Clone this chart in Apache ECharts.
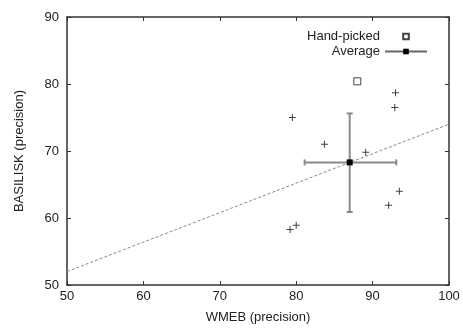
<!DOCTYPE html>
<html>
<head>
<meta charset="utf-8">
<script src="https://cdn.jsdelivr.net/npm/echarts@6/dist/echarts.min.js"></script>
<style>
  html, body { margin: 0; padding: 0; background: #fff; }
  #chart { width: 463px; height: 329px; }
</style>
</head>
<body>
<div id="chart"></div>
<script>
// data
const plusX = [79.5, 83.7, 89.1, 93.0, 92.9, 93.5, 92.1, 80.0, 79.2];
const plusY = [75.0, 71.0, 69.8, 78.7, 76.5, 64.0, 61.9, 58.9, 58.3];
const handPicked = [88.0, 80.4];
const average = [87.0, 68.3];
const avgXRange = [81.1, 93.1];
const avgYRange = [60.9, 75.6];
const fitX = [50, 100];
const fitY = [52.0, 74.0];
const xTicks = [50, 100, 10];
const yTicks = [50, 90, 10];

const font = 'Liberation Sans, Arial, sans-serif';
const txt = '#222';
const axisCol = '#333';

const chart = echarts.init(document.getElementById('chart'));

const frameAxis = (pos, show) => ({
  type: 'value',
  position: pos,
  axisLine: { show: true, onZero: false, lineStyle: { color: axisCol, width: 1.5 } },
  axisTick: { show: true, inside: true, length: 4, lineStyle: { color: axisCol, width: 1 } },
  axisLabel: { show: show },
  splitLine: { show: false }
});

chart.setOption({
  animation: false,
  textStyle: { fontFamily: font },
  grid: { left: 67, top: 17, right: 14, bottom: 42 },
  legend: {
    data: ['Hand-picked', 'Average'],
    orient: 'vertical',
    align: 'right',
    right: 30,
    top: 25,
    itemWidth: 42,
    itemHeight: 7,
    itemGap: 2,
    textStyle: { fontFamily: font, fontSize: 13, color: txt }
  },
  xAxis: [
    Object.assign(frameAxis('bottom', true), {
      min: xTicks[0], max: xTicks[1], interval: xTicks[2],
      axisLabel: { color: txt, fontSize: 13, margin: 5, fontFamily: font },
      name: 'WMEB (precision)',
      nameLocation: 'middle',
      nameGap: 26,
      nameTextStyle: { color: txt, fontSize: 13, fontFamily: font }
    }),
    Object.assign(frameAxis('top', false), {
      min: xTicks[0], max: xTicks[1], interval: xTicks[2]
    })
  ],
  yAxis: [
    Object.assign(frameAxis('left', true), {
      min: yTicks[0], max: yTicks[1], interval: yTicks[2],
      axisLabel: { color: txt, fontSize: 13, margin: 8, fontFamily: font },
      name: 'BASILISK (precision)',
      nameLocation: 'middle',
      nameGap: 41,
      nameTextStyle: { color: txt, fontSize: 13, fontFamily: font }
    }),
    Object.assign(frameAxis('right', false), {
      min: yTicks[0], max: yTicks[1], interval: yTicks[2]
    })
  ],
  series: [
    {
      name: 'fit',
      type: 'line',
      data: fitX.map((x, i) => [x, fitY[i]]),
      showSymbol: false,
      lineStyle: { color: '#888', width: 1, type: [3, 2] },
      z: 1
    },
    {
      name: 'points',
      type: 'scatter',
      data: plusX.map((x, i) => [x, plusY[i]]),
      symbol: 'path://M3,0h1v7h-1z M0,3h7v1h-7z',
      symbolSize: 7,
      itemStyle: { color: '#111' },
      z: 3
    },
    {
      name: 'Average bars',
      type: 'custom',
      data: [[average[0], average[1], avgXRange[0], avgXRange[1], avgYRange[0], avgYRange[1]]],
      encode: { x: [0, 2, 3], y: [1, 4, 5] },
      renderItem: (params, api) => {
        const y = api.value(1), x = api.value(0);
        const l = api.coord([api.value(2), y]);
        const r = api.coord([api.value(3), y]);
        const b = api.coord([x, api.value(4)]);
        const t = api.coord([x, api.value(5)]);
        const cap = 3;
        const style = { stroke: '#8a8a8a', lineWidth: 2 };
        const seg = (x1, y1, x2, y2) => ({ type: 'line', shape: { x1, y1, x2, y2 }, style });
        return {
          type: 'group',
          children: [
            seg(l[0], l[1], r[0], r[1]),
            seg(l[0], l[1] - cap, l[0], l[1] + cap),
            seg(r[0], r[1] - cap, r[0], r[1] + cap),
            seg(b[0], b[1], t[0], t[1]),
            seg(b[0] - cap, b[1], b[0] + cap, b[1]),
            seg(t[0] - cap, t[1], t[0] + cap, t[1])
          ]
        };
      },
      z: 2
    },
    {
      name: 'Average',
      type: 'line',
      data: [average],
      symbol: 'rect',
      symbolSize: 6,
      itemStyle: { color: '#000' },
      lineStyle: { color: '#666', width: 1 },
      z: 4
    },
    {
      name: 'Hand-picked',
      type: 'line',
      data: [handPicked],
      symbol: 'rect',
      symbolSize: 7,
      itemStyle: { color: '#fff', borderColor: '#444', borderWidth: 1 },
      lineStyle: { width: 0, opacity: 0 },
      z: 4
    }
  ]
});
</script>
</body>
</html>
